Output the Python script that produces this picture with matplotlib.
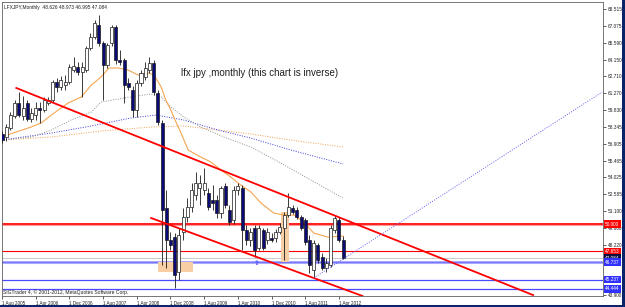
import numpy as np
import matplotlib
matplotlib.use("Agg")
import matplotlib.pyplot as plt
from matplotlib.patches import Rectangle

# monthly candles LFXJPY, Aug 2005 .. May 2012
open_p = [57.76, 57.50, 58.27, 59.31, 60.43, 59.31, 60.43, 59.05, 59.39, 60.00,
          59.82, 60.43, 60.68, 62.23, 61.80, 61.97, 62.23, 63.27, 63.52, 63.09,
          63.27, 65.16, 66.11, 67.14, 65.59, 63.70, 65.59, 66.97, 64.13, 64.13,
          62.15, 61.55, 59.82, 62.15, 62.66, 63.27, 63.87, 61.29, 58.71, 51.39,
          48.64, 48.89, 45.88, 49.32, 50.62, 51.48, 52.51, 53.11, 52.94, 52.68,
          52.08, 52.08, 50.96, 53.28, 51.22, 50.36, 52.94, 53.11, 49.50, 48.64,
          49.67, 47.95, 49.50, 48.64, 48.81, 48.81, 49.32, 49.67, 50.79, 51.39,
          51.22, 50.62, 50.36, 48.64, 46.05, 48.21, 47.17, 46.23, 46.48, 49.50,
          50.36, 48.626]
high_p = [58.02, 58.62, 59.65, 60.68, 61.37, 61.03, 60.68, 60.00, 60.51, 60.51,
          60.94, 60.94, 62.41, 62.58, 62.75, 62.84, 63.78, 64.38, 63.95, 63.95,
          65.33, 66.45, 67.57, 68.00, 65.76, 65.59, 67.14, 67.14, 64.99, 64.30,
          62.58, 61.89, 62.41, 63.27, 63.95, 64.38, 64.13, 61.55, 58.96, 52.94,
          49.32, 49.24, 49.67, 51.39, 52.25, 53.54, 54.49, 54.23, 54.83, 53.11,
          53.37, 52.51, 53.28, 53.54, 51.65, 53.28, 53.54, 53.37, 49.93, 49.67,
          49.93, 49.93, 49.67, 49.67, 49.24, 49.58, 50.10, 51.05, 52.68, 51.65,
          51.48, 50.79, 50.53, 49.07, 48.64, 48.38, 47.52, 47.09, 49.93, 50.79,
          50.62, 48.973]
low_p = [56.98, 57.16, 58.10, 59.14, 59.22, 58.96, 58.88, 58.79, 58.96, 58.71,
         59.65, 60.25, 60.51, 61.37, 61.55, 61.55, 62.06, 63.09, 62.84, 60.94,
         63.09, 64.99, 65.93, 65.33, 60.68, 63.44, 65.33, 63.78, 63.70, 60.43,
         61.55, 59.22, 59.22, 61.89, 62.41, 63.01, 61.11, 58.53, 46.48, 46.23,
         47.78, 44.51, 45.19, 48.64, 50.19, 51.05, 52.08, 51.65, 52.51, 51.22,
         51.22, 50.53, 50.53, 51.39, 49.93, 50.01, 52.51, 47.78, 48.21, 48.12,
         47.17, 47.78, 47.78, 48.29, 48.46, 48.46, 49.15, 46.92, 50.62, 50.87,
         50.44, 49.50, 48.21, 45.80, 45.37, 46.66, 46.05, 45.88, 46.31, 49.24,
         48.46, 46.995]
close_p = [57.24, 58.36, 59.39, 60.43, 59.39, 60.00, 59.05, 59.57, 60.00, 59.82,
           60.68, 60.68, 62.23, 61.80, 62.41, 62.23, 63.52, 63.61, 63.09, 63.52,
           65.16, 66.11, 67.31, 65.59, 63.70, 65.42, 66.97, 64.13, 63.95, 61.97,
           61.80, 59.82, 62.15, 63.01, 63.44, 63.87, 61.37, 58.79, 51.22, 48.64,
           48.21, 45.62, 49.07, 50.62, 51.48, 52.94, 53.54, 53.54, 53.54, 51.48,
           51.82, 50.96, 53.11, 51.65, 50.19, 52.94, 53.28, 49.50, 48.64, 49.32,
           47.78, 49.67, 47.95, 49.32, 48.64, 49.32, 49.75, 50.79, 51.48, 51.05,
           50.62, 49.67, 48.46, 46.48, 48.38, 46.92, 46.23, 46.66, 49.67, 50.53,
           48.64, 47.084]

# moving averages (month index, price)
ma_fast_x = [-0.2, 6.9, 9.3, 11.7, 15.7, 18.8, 21.2, 23.5, 25.4, 27.6, 29.9, 32.3,
             34.7, 36.1, 37.8, 38.9, 40.1, 41.3, 42.5, 44.2, 47.2, 49.6, 52.0, 54.3,
             56.7, 59.1, 61.5, 64.5, 66.9, 69.3, 71.6, 74.0, 77.3, 81.0]
ma_fast_y = [57.50, 58.36, 58.71, 59.39, 60.43, 60.94, 61.97, 62.66, 63.44, 63.44,
             63.27, 62.84, 63.01, 62.84, 61.80, 60.68, 59.82, 58.79, 57.84, 56.38,
             55.78, 55.35, 54.66, 54.06, 53.37, 52.77, 51.82, 50.96, 50.79, 50.79,
             50.19, 49.24, 48.89, 48.98]
ma_grey_x = [-0.2, 6.9, 11.7, 16.4, 21.2, 23.5, 29.0, 35.4, 37.8, 40.1, 43.2, 47.2,
             52.7, 59.1, 66.2, 73.3, 81.0]
ma_grey_y = [57.24, 57.50, 58.10, 58.96, 59.65, 60.51, 60.86, 61.20, 60.94, 60.08,
             59.22, 58.36, 57.50, 56.64, 55.26, 53.80, 52.25]
ma_blue_x = [-0.2, 11.7, 21.2, 30.6, 36.6, 43.2, 51.3, 59.1, 68.6, 81.0]
ma_blue_y = [57.24, 57.84, 58.45, 59.14, 59.39, 58.96, 58.10, 57.41, 56.38, 55.18]
ma_slow_x = [-0.2, 11.7, 23.5, 35.4, 43.2, 51.3, 59.1, 68.6, 81.0]
ma_slow_y = [57.24, 57.50, 58.02, 58.36, 58.45, 58.10, 57.76, 57.24, 56.64]

# objects drawn on the chart
trend_upper = [(3.4, 61.72), (126.1, 43.90)]
trend_lower = [(35.4, 50.53), (85.6, 43.82)]
trend_blue = [(74.0, 45.37), (142.5, 61.37)]
hlines_red = [50.000, 47.653]
hline_bid = 47.084
hline_blue_thick = 46.737
hlines_blue = [45.237, 44.444]

date_pos = [0, 8, 16, 24, 32, 40, 48, 56, 64, 72, 80]
date_lbl = ["1 Aug 2005", "1 Apr 2006", "1 Dec 2006", "1 Aug 2007", "1 Apr 2008",
            "1 Dec 2008", "1 Aug 2009", "1 Apr 2010", "1 Dec 2010", "1 Aug 2011",
            "1 Apr 2012"]
price_ticks = [68.515, 67.075, 65.590, 64.150, 62.710, 61.270, 59.830, 58.345,
               56.905, 55.465, 54.025, 52.585, 51.100, 49.660, 48.220, 46.780,
               45.340, 43.900]
# labels hidden behind the object price tags
hidden_ticks = [46.780, 45.340]

plt.rcParams["font.family"] = ["Liberation Sans", "DejaVu Sans"]

fig = plt.figure(figsize=(6.25, 3.07), dpi=100)
ax = fig.add_axes([2 / 625, 11 / 307, 601 / 625, 294 / 307])

#linhas horizontais
ax.axhline(50.0, color="#ff9a9a", lw=2.2, zorder=0.9)
for v in hlines_red:
    ax.axhline(v, color="#ff0000", lw=1.1 if v == 50.0 else 0.8, zorder=1)
ax.axhline(hline_bid, color="#c0c0c0", lw=0.6, zorder=1)
ax.axhline(hline_blue_thick, color="#aaaaff", lw=2.2, zorder=1)
ax.axhline(hline_blue_thick, color="#6060ff", lw=0.5, zorder=1)
for v in hlines_blue:
    ax.axhline(v, color="#4a4aff", lw=0.9, zorder=1)

#areas laranja
ax.add_patch(Rectangle((37.0, 45.88), 8.3, 0.86, fc="#f8cfa4", ec="none", zorder=1.5))
ax.add_patch(Rectangle((66.2, 46.74), 1.9, 4.31, fc="#f8cfa4", ec="none", zorder=1.5))

#medias moveis
ax.plot(ma_slow_x, ma_slow_y, color="#f0a050", lw=0.7, ls=(0, (1, 1.5)), zorder=2)
ax.plot(ma_blue_x, ma_blue_y, color="#3b3bdd", lw=0.7, ls=(0, (1, 1.5)), zorder=2)
ax.plot(ma_grey_x, ma_grey_y, color="#909090", lw=0.7, ls=(0, (1, 1.5)), zorder=2)
ax.plot(ma_fast_x, ma_fast_y, color="#f5a550", lw=0.8, zorder=2)

#candles
x = np.arange(len(close_p))
o = np.array(open_p)
c = np.array(close_p)
up = c >= o
lo = np.minimum(o, c)
h = np.maximum(np.abs(c - o), 0.04)
ax.vlines(x, low_p, high_p, color="#1a1a1a", lw=0.6, zorder=3)
ax.bar(x[up], h[up], bottom=lo[up], width=0.72, color="white",
       edgecolor="#1a1a1a", linewidth=0.5, zorder=4)
ax.bar(x[~up], h[~up], bottom=lo[~up], width=0.72, color="#0b0b78",
       edgecolor="#1a1a1a", linewidth=0.5, zorder=4)

#linhas de tendencia
for seg in [trend_upper, trend_lower]:
    ax.plot([seg[0][0], seg[1][0]], [seg[0][1], seg[1][1]], color="#ff0000", lw=1.3, zorder=5)
ax.plot([trend_blue[0][0], trend_blue[1][0]], [trend_blue[0][1], trend_blue[1][1]],
        color="#6060ee", lw=0.7, ls=(0, (1, 1.5)), zorder=5)

ax.text(60.5, 46.66, "\u21e7", color="#3030ff", fontsize=5, ha="center", va="center",
        family="DejaVu Sans", zorder=6)

ax.text(42.5, 63.0, "lfx jpy ,monthly (this chart is inverse)", fontsize=7,
        ha="left", va="center", color="#202020")

#textos
ax.text(0.003, 0.99, "LFXJPY,Monthly  48.626 48.973 46.995 47.084", transform=ax.transAxes,
        fontsize=3.5, ha="left", va="top", color="#202020")
ax.text(0.002, 0.004, "SIGTrader 4, \u00a9 2001-2012, MetaQuotes Software Corp.",
        transform=ax.transAxes, fontsize=3.6, ha="left", va="bottom", color="#202020")

ax.set_xlim(0.31, 142.7)
ax.set_ylim(43.82, 69.12)

ax.yaxis.tick_right()
ax.set_yticks(price_ticks)
ax.set_yticklabels(["" if v in hidden_ticks else "%.3f" % v for v in price_ticks])
ax.tick_params(axis="y", direction="out", length=2, width=0.5, pad=1.5,
               labelsize=3.4, colors="#202020")
ax.set_xticks(date_pos)
ax.set_xticklabels(date_lbl, ha="left")
ax.tick_params(axis="x", direction="out", length=2.5, width=0.5, pad=0.8,
               labelsize=3.3, colors="#202020")
for s in ax.spines.values():
    s.set_color("#606060")
    s.set_linewidth(0.6)

#etiquetas coloridas do eixo de preco
labels = [(50.000, "#ff0000"), (47.653, "#ff0000"), (47.084, "#101040"),
          (46.737, "#3030ff"), (45.237, "#3030ff"), (44.444, "#3030ff")]
for v, col in labels:
    ax.text(1.0 + 2 / 601, v, "%.3f" % v, transform=ax.get_yaxis_transform(),
            fontsize=3.4, color="white", ha="left", va="center", zorder=10,
            bbox=dict(boxstyle="square,pad=0.3", fc=col, ec="none"), clip_on=False)

#borda da janela
fig.patches.append(Rectangle((0, 0), 1, 2.5 / 307, transform=fig.transFigure,
                             fc="#0a246a", ec="none"))
fig.patches.append(Rectangle((622 / 625, 0), 3 / 625, 1, transform=fig.transFigure,
                             fc="#0a246a", ec="none"))

plt.savefig("out.png", dpi=100)
